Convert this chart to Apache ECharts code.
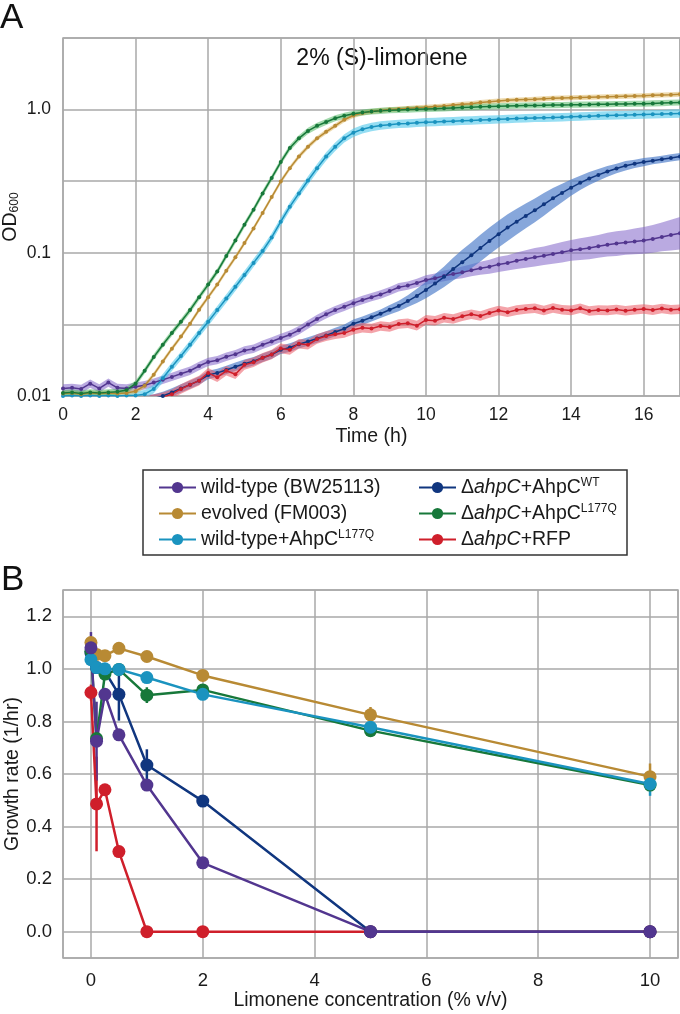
<!DOCTYPE html>
<html><head><meta charset="utf-8">
<script src="https://cdn.jsdelivr.net/npm/echarts@6/dist/echarts.min.js"></script>
<style>html,body{margin:0;padding:0;background:#fff}#c{width:680px;height:1014px}</style>
</head><body><div id="c"></div>
<script>
const FONT = '"Liberation Sans", Arial, Helvetica, sans-serif';

// ---------- series names ----------
const N_WT = 'wild-type (BW25113)';
const N_EV = 'evolved (FM003)';
const N_WTL = 'wild-type+AhpC L177Q';
const N_DWT = 'ΔahpC+AhpC WT';
const N_DL = 'ΔahpC+AhpC L177Q';
const N_DR = 'ΔahpC+RFP';
const legendLabels = {};
legendLabels[N_WT] = 'wild-type (BW25113)';
legendLabels[N_EV] = 'evolved (FM003)';
legendLabels[N_WTL] = 'wild-type+AhpC{s|L177Q}';
legendLabels[N_DWT] = 'Δ{i|ahpC}+AhpC{s|WT}';
legendLabels[N_DL] = 'Δ{i|ahpC}+AhpC{s|L177Q}';
legendLabels[N_DR] = 'Δ{i|ahpC}+RFP';

// ---------- panel A: growth curves, OD600 vs time (h) ----------
const timeH = [0,0.25,0.5,0.75,1,1.25,1.5,1.75,2,2.25,2.5,2.75,3,3.25,3.5,3.75,4,4.25,4.5,4.75,5,5.25,5.5,5.75,6,6.25,6.5,6.75,7,7.25,7.5,7.75,8,8.25,8.5,8.75,9,9.25,9.5,9.75,10,10.25,10.5,10.75,11,11.25,11.5,11.75,12,12.25,12.5,12.75,13,13.25,13.5,13.75,14,14.25,14.5,14.75,15,15.25,15.5,15.75,16,16.25,16.5,16.75,17];

const odWT = [.0113,.0114,.0112,.0122, .0113,.0124,.0114,.0113, .0116,.0119,.0124,.0130, .0136,.0143,.0150,.0162, .0173,.0178,.0188,.0196, .0208,.0214,.0228,.0240, .0254,.0268,.0288,.0316, .0345,.0372,.0398,.0420, .0445,.0468,.0490,.0512, .0540,.0575,.0590,.0615, .0645,.0665,.0690,.0710, .0730,.0755,.0780,.0800, .0830,.0850,.0880,.0905, .0930,.0955,.0980,.1010, .1040,.1060,.1080,.1110, .1140,.1160,.1180,.1200, .1220,.1250,.1290,.1330, .1370];
const odEV = [.0104,.0105,.0103,.0105, .0104,.0105,.0104,.0105, .0108,.0118,.0141,.0174, .0214,.0260,.0320,.0400, .0490,.0600,.0750,.0930, .117,.148,.190,.245, .315,.390,.470,.550, .630,.700,.770,.850, .910,.945,.970,.985, 1.00,1.01,1.02,1.03, 1.04,1.05,1.06,1.075, 1.09,1.10,1.12,1.135, 1.15,1.16,1.17,1.175, 1.18,1.19,1.20,1.205, 1.21,1.215,1.22,1.225, 1.23,1.235,1.24,1.245, 1.25,1.26,1.265,1.27, 1.28];
const odWTL = [.0100,.0101,.0100,.0101, .0100,.0101,.0100,.0101, .0101,.0103,.0112,.0133, .0160,.0190,.0228,.0275, .0330,.0398,.0480,.0580, .0700,.0850,.1030,.1280, .165,.210,.260,.320, .390,.470,.550,.630, .690,.730,.755,.775, .785,.795,.800,.808, .815,.820,.825,.830, .835,.840,.845,.850, .855,.860,.865,.870, .875,.878,.880,.885, .890,.895,.900,.905, .910,.913,.915,.920, .925,.928,.930,.935, .940];
const odDWT = [.0090,.0091,.0090,.0091, .0090,.0091,.0092,.0092, .0093,.0094,.0096,.0100, .0106,.0113,.0120,.0128, .0140,.0145,.0152,.0160, .0168,.0175,.0185,.0195, .0210,.0218,.0230,.0240, .0252,.0265,.0280,.0295, .0320,.0335,.0355,.0375, .0400,.0425,.0460,.0500, .0550,.0610,.0680,.0770, .0860,.0960,.1080,.1210, .1350,.1500,.1650,.1810, .1980,.2180,.2400,.2620, .2850,.3080,.3300,.3500, .3700,.3880,.4050,.4180, .4300,.4400,.4500,.4600, .4700];
const odDL = [.0105,.0106,.0104,.0106, .0105,.0106,.0107,.0110, .0122,.0150,.0187,.0228, .0275,.0330,.0398,.0490, .0600,.0740,.0950,.1220, .157,.200,.260,.333, .430,.540,.630,.710, .770,.820,.870,.905, .935,.955,.970,.980, .990,.995,1.00,1.005, 1.01,1.015,1.02,1.028, 1.035,1.04,1.045,1.05, 1.055,1.06,1.065,1.068, 1.07,1.072,1.075,1.078, 1.08,1.083,1.085,1.088, 1.09,1.093,1.095,1.098, 1.10,1.105,1.11,1.115, 1.12];
const odDR = [.0092,.0093,.0091,.0093, .0092,.0093,.0092,.0093, .0093,.0094,.0095,.0098, .0103,.0112,.0120,.0128, .0145,.0135,.0150,.0142, .0165,.0172,.0185,.0195, .0215,.0210,.0232,.0228, .0250,.0262,.0270,.0275, .0290,.0300,.0296,.0308, .0303,.0318,.0322,.0310, .0340,.0335,.0352,.0345, .0360,.0372,.0362,.0380, .0395,.0385,.0398,.0405, .0410,.0395,.0412,.0400, .0396,.0410,.0392,.0398, .0396,.0402,.0394,.0400, .0405,.0398,.0408,.0400, .0404];

// shaded band half-width, as a multiplicative factor (upper = v*f, lower = v/f)
const bandWT = [1.07,1.07,1.07,1.07, 1.07,1.07,1.07,1.07, 1.07,1.07,1.07,1.07, 1.07,1.07,1.07,1.07, 1.07,1.07,1.07,1.07, 1.07,1.07,1.07,1.07, 1.07,1.07,1.07,1.07, 1.07,1.07,1.07,1.07, 1.07,1.07,1.07,1.07, 1.07,1.07,1.07,1.07, 1.08,1.08,1.09,1.09, 1.10,1.10,1.11,1.12, 1.13,1.13,1.14,1.15, 1.16,1.16,1.17,1.18, 1.18,1.19,1.20,1.20, 1.21,1.22,1.22,1.23, 1.24,1.25,1.26,1.28, 1.30];
const bandDWT = [1.07,1.07,1.07,1.07, 1.07,1.07,1.07,1.07, 1.07,1.07,1.07,1.07, 1.07,1.07,1.07,1.07, 1.07,1.07,1.07,1.07, 1.07,1.07,1.07,1.07, 1.07,1.07,1.07,1.07, 1.07,1.07,1.07,1.07, 1.07,1.07,1.07,1.07, 1.08,1.09,1.10,1.12, 1.14,1.16,1.18,1.20, 1.22,1.23,1.24,1.24, 1.24,1.24,1.23,1.22, 1.21,1.20,1.18,1.16, 1.14,1.12,1.11,1.10, 1.09,1.08,1.08,1.07, 1.07,1.06,1.06,1.06, 1.06];
const bandEV = 1.04;
const bandWTL = 1.07;
const bandDL = 1.05;
const bandDR = 1.08;

// ---------- panel B: growth rate vs limonene concentration ----------
const conc = [0, 0.1, 0.25, 0.5, 1, 2, 5, 10];
const rateWT  = [1.08, 0.725, 0.903, 0.749, 0.558, 0.262, 0, 0];
const errWT   = [0.06, 0.15, 0.01, 0.01, 0.01, 0.01, 0, 0];
const rateEV  = [1.10, 1.055, 1.05, 1.078, 1.047, 0.975, 0.825, 0.59];
const errEV   = [0.02, 0.01, 0.01, 0.01, 0.01, 0.01, 0.03, 0.05];
const rateWTL = [1.035, 1.005, 1.0, 0.998, 0.967, 0.903, 0.778, 0.562];
const errWTL  = [0.02, 0.01, 0.01, 0.01, 0.01, 0.01, 0.02, 0.045];
const rateDWT = [1.06, 1.005, 0.99, 0.903, 0.634, 0.497, 0, 0];
const errDWT  = [0.03, 0.02, 0.02, 0.10, 0.06, 0.01, 0, 0];
const rateDL  = [1.067, 0.735, 0.98, 0.998, 0.90, 0.92, 0.765, 0.558];
const errDL   = [0.02, 0.02, 0.02, 0.01, 0.03, 0.02, 0.01, 0.01];
const rateDR  = [0.91, 0.486, 0.54, 0.305, 0, 0, 0, 0];
const errDR   = [0.03, 0.18, 0.02, 0.01, 0, 0, 0, 0];

// ---------- colours ----------
const C = {};
C[N_WT] = '#52368f'; C[N_EV] = '#b88a34'; C[N_WTL] = '#1a93bf';
C[N_DWT] = '#10367f'; C[N_DL] = '#17783a'; C[N_DR] = '#cf1f2b';
const BAND = {};
BAND[N_WT] = 'rgba(130,100,200,0.55)'; BAND[N_EV] = 'rgba(220,180,90,0.5)';
BAND[N_WTL] = 'rgba(80,200,235,0.6)'; BAND[N_DWT] = 'rgba(70,120,200,0.65)';
BAND[N_DL] = 'rgba(70,180,90,0.5)'; BAND[N_DR] = 'rgba(235,90,100,0.55)';

function bandSeries(name, vals, ratio) {
  return {
    type: 'custom', name: 'band ' + name, xAxisIndex: 0, yAxisIndex: 0,
    clip: true, silent: true, z: 1,
    data: [[1, 0.05]],
    renderItem: function (params, api) {
      const up = [], lo = [];
      for (let i = 0; i < timeH.length; i++) {
        const r = Array.isArray(ratio) ? ratio[i] : ratio;
        up.push(api.coord([timeH[i], vals[i] * r]));
        lo.push(api.coord([timeH[i], vals[i] / r]));
      }
      return { type: 'polygon', shape: { points: up.concat(lo.reverse()) }, style: { fill: BAND[name] } };
    }
  };
}
function curveSeries(name, vals) {
  return {
    type: 'line', name: name, xAxisIndex: 0, yAxisIndex: 0, z: 2,
    data: timeH.map((t, i) => [t, vals[i]]),
    symbol: 'circle', symbolSize: 4, showSymbol: true, clip: true,
    lineStyle: { width: 1.5, color: C[name] }, itemStyle: { color: C[name] },
    emphasis: { disabled: true }, silent: true
  };
}
function rateSeries(name, vals) {
  return {
    type: 'line', name: name, xAxisIndex: 1, yAxisIndex: 1, z: 3,
    data: conc.map((c, i) => [c, vals[i]]),
    symbol: 'circle', symbolSize: 13, showSymbol: true,
    lineStyle: { width: 2.5, color: C[name] }, itemStyle: { color: C[name] },
    emphasis: { disabled: true }, silent: true
  };
}
function errSeries(name, vals, errs) {
  return {
    type: 'custom', name: 'err ' + name, xAxisIndex: 1, yAxisIndex: 1, z: 3, silent: true,
    data: conc.map((c, i) => [c, vals[i], errs[i]]),
    renderItem: function (params, api) {
      const x = api.value(0), v = api.value(1), e = api.value(2);
      if (!(e > 0)) return { type: 'group', children: [] };
      const a = api.coord([x, v - e]), b = api.coord([x, v + e]);
      return { type: 'line', shape: { x1: a[0], y1: a[1], x2: b[0], y2: b[1] }, style: { stroke: C[name], lineWidth: 2.5 } };
    }
  };
}

const series = [];
// panel B (first so the legend picks its markers)
[[N_DR, rateDR, errDR], [N_DWT, rateDWT, errDWT], [N_DL, rateDL, errDL], [N_EV, rateEV, errEV], [N_WTL, rateWTL, errWTL], [N_WT, rateWT, errWT]].forEach(s => {
  series.push(errSeries(s[0], s[1], s[2]));
  series.push(rateSeries(s[0], s[1]));
});
// panel A
const topSet = [[N_WT, odWT, bandWT], [N_DWT, odDWT, bandDWT], [N_DR, odDR, bandDR], [N_WTL, odWTL, bandWTL], [N_EV, odEV, bandEV], [N_DL, odDL, bandDL]];
topSet.forEach(s => series.push(bandSeries(s[0], s[1], s[2])));
topSet.forEach(s => series.push(curveSeries(s[0], s[1])));

const GRID = '#a9a9a9';
const TXT = '#1a1a1a';
const axisCommon = {
  axisLine: { show: false }, axisTick: { show: false },
  splitLine: { show: true, lineStyle: { color: GRID, width: 1.5 } }
};
const legendText = {
  fontFamily: FONT, fontSize: 19.5, color: TXT, lineHeight: 21,
  rich: {
    i: { fontFamily: FONT, fontSize: 19.5, fontStyle: 'italic', color: TXT, lineHeight: 21 },
    s: { fontFamily: FONT, fontSize: 12, color: TXT, verticalAlign: 'top', lineHeight: 12 }
  }
};
const nameStyle = { fontSize: 19.5, color: TXT, fontFamily: FONT };

const chart = echarts.init(document.getElementById('c'), null, { renderer: 'canvas' });
chart.setOption({
  animation: false,
  backgroundColor: '#fff',
  textStyle: { fontFamily: FONT },
  grid: [
    { left: 63, right: 0, top: 38, height: 358, show: true, borderColor: GRID, borderWidth: 1.5, containLabel: false, outerBoundsMode: 'none' },
    { left: 63, right: 2, top: 590, height: 368, show: true, borderColor: GRID, borderWidth: 1.5, containLabel: false, outerBoundsMode: 'none' }
  ],
  xAxis: [
    Object.assign({}, axisCommon, {
      type: 'value', gridIndex: 0, min: 0, max: 17, interval: 2,
      axisLabel: { fontSize: 17.5, color: TXT, margin: 10, showMaxLabel: false, fontFamily: FONT },
      name: 'Time (h)', nameLocation: 'middle', nameGap: 31, nameMoveOverlap: false,
      nameTextStyle: nameStyle
    }),
    Object.assign({}, axisCommon, {
      type: 'value', gridIndex: 1, min: -0.5, max: 10.5, splitNumber: 6,
      axisLabel: { fontSize: 18.5, color: TXT, margin: 13, showMinLabel: false, showMaxLabel: false, fontFamily: FONT },
      name: 'Limonene concentration (% v/v)', nameLocation: 'middle', nameGap: 33, nameMoveOverlap: false,
      nameTextStyle: nameStyle
    })
  ],
  yAxis: [
    Object.assign({}, axisCommon, {
      type: 'log', logBase: 3.1622776601683795, gridIndex: 0, min: 0.01, max: 3.1622776601683795,
      axisLabel: {
        fontSize: 17.5, color: TXT, margin: 12, fontFamily: FONT, showMaxLabel: false,
        formatter: function (v) {
          const l = Math.log10(v), r = Math.round(l);
          if (Math.abs(l - r) > 0.01) return '';
          const p = Math.pow(10, r);
          return r >= 0 ? p.toFixed(1) : p.toFixed(-r);
        }
      },
      name: 'OD{sub|600}', nameLocation: 'middle', nameGap: 42, nameMoveOverlap: false,
      nameTextStyle: Object.assign({}, nameStyle, {
        rich: { sub: { fontSize: 12, color: TXT, fontFamily: FONT, verticalAlign: 'bottom', lineHeight: 12 } } })
    }),
    Object.assign({}, axisCommon, {
      type: 'value', gridIndex: 1, min: -0.1, max: 1.3, splitNumber: 7,
      axisLabel: { fontSize: 18.5, color: TXT, margin: 11, showMinLabel: false, showMaxLabel: false, fontFamily: FONT,
        formatter: v => v.toFixed(1) },
      name: 'Growth rate (1/hr)', nameLocation: 'middle', nameGap: 40, nameMoveOverlap: false,
      nameTextStyle: nameStyle
    })
  ],
  legend: [
    { data: [N_WT, N_EV, N_WTL], left: 153, top: 472, orient: 'vertical', itemWidth: 37, itemHeight: 14, itemGap: 5,
      selectedMode: false, formatter: n => legendLabels[n], textStyle: legendText },
    { data: [N_DWT, N_DL, N_DR], left: 413, top: 472, orient: 'vertical', itemWidth: 37, itemHeight: 14, itemGap: 5,
      selectedMode: false, formatter: n => legendLabels[n], textStyle: legendText }
  ],
  graphic: [
    { type: 'rect', shape: { x: 143, y: 470, width: 484, height: 85 }, style: { fill: 'none', stroke: '#333', lineWidth: 1.5 }, silent: true },
    { type: 'text', x: 0, y: 18, style: { text: 'A', fontSize: 35, fontFamily: FONT, fill: '#111', textAlign: 'left', textVerticalAlign: 'middle' }, silent: true },
    { type: 'text', x: 1, y: 580, style: { text: 'B', fontSize: 35, fontFamily: FONT, fill: '#111', textAlign: 'left', textVerticalAlign: 'middle' }, silent: true },
    { type: 'text', x: 382, y: 59, style: { text: '2% (S)-limonene', fontSize: 23, fontFamily: FONT, fill: '#111', textAlign: 'center', textVerticalAlign: 'middle' }, silent: true }
  ],
  series: series
});
</script>
</body></html>
